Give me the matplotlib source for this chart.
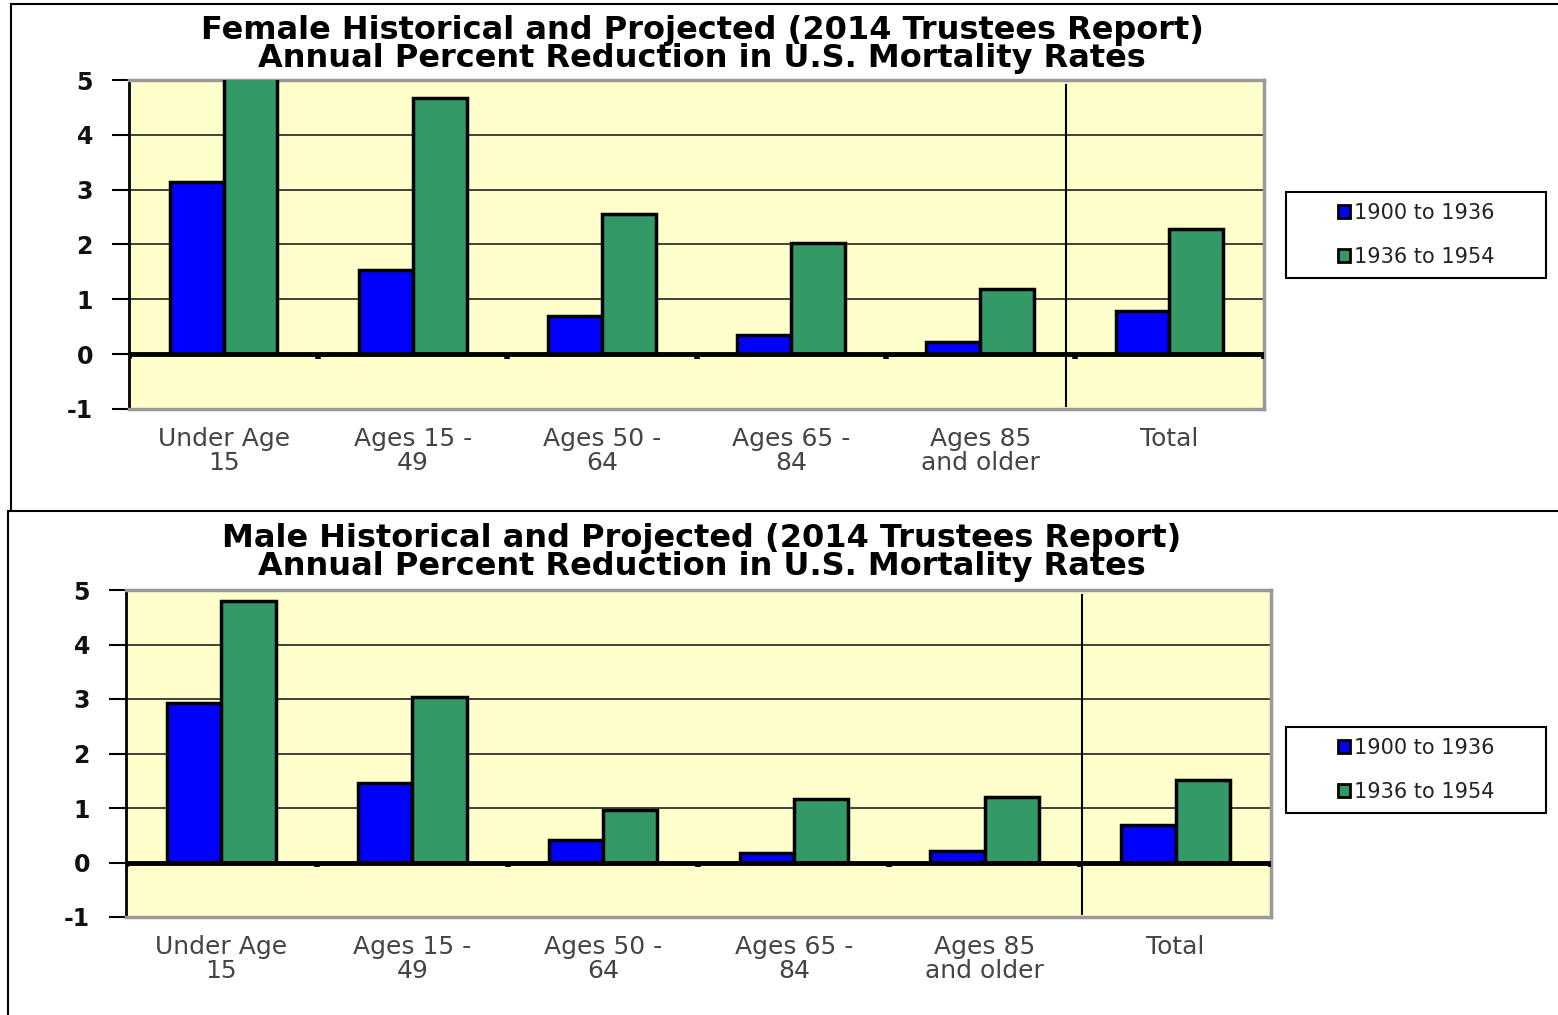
import matplotlib
matplotlib.use("Agg")
import matplotlib.pyplot as plt
from matplotlib.lines import Line2D
from matplotlib.patches import Patch
import numpy as np

categories = ["Under Age\n15", "Ages 15 -\n49", "Ages 50 -\n64", "Ages 65 -\n84", "Ages 85\nand older", "Total"]
series_names = ["1900 to 1936", "1936 to 1954"]
female_1900_1936 = [3.14, 1.53, 0.69, 0.35, 0.22, 0.78]
female_1936_1954 = [5.1, 4.67, 2.55, 2.03, 1.19, 2.28]
male_1900_1936 = [2.92, 1.45, 0.42, 0.18, 0.22, 0.68]
male_1936_1954 = [4.80, 3.03, 0.97, 1.16, 1.21, 1.51]
yticks = [-1, 0, 1, 2, 3, 4, 5]
female_title = ["Female Historical and Projected (2014 Trustees Report)",
                "Annual Percent Reduction in U.S. Mortality Rates"]
male_title = ["Male Historical and Projected (2014 Trustees Report)",
              "Annual Percent Reduction in U.S. Mortality Rates"]

W, H = 1558, 1015
fig = plt.figure(figsize=(W / 100, H / 100), dpi=100)
fig.patch.set_facecolor("white")

BLUE = "#0000FF"
GREEN = "#339966"
BG = "#FFFFCC"


def px_axes(x0, y0, x1, y1):
    return fig.add_axes([x0 / W, 1 - y1 / H, (x1 - x0) / W, (y1 - y0) / H])


def panel(ax, blue, green, title_lines, vline_x, title_ys, legend_box):
    n = len(categories)
    x = np.arange(n)
    bw = 0.285
    ax.set_facecolor(BG)
    ax.set_xlim(-0.5, n - 0.5)
    ax.set_ylim(-1, 5)
    for y in range(1, 5):
        ax.axhline(y, color="#333333", lw=1.3, zorder=1)
    ax.bar(x - bw / 2, blue, bw, color=BLUE, edgecolor="black", lw=2.5, zorder=3, label=series_names[0])
    ax.bar(x + bw / 2, green, bw, color=GREEN, edgecolor="black", lw=2.5, zorder=3, label=series_names[1])
    ax.axhline(0, color="black", lw=3.5, zorder=4)
    ax.vlines(np.arange(n + 1) - 0.5, -0.08, 0, color="black", lw=4, zorder=4)
    ax.axvline(vline_x, ymin=0.01, ymax=0.985, color="black", lw=1.5, zorder=2)
    for s in ["top", "right", "bottom"]:
        ax.spines[s].set_color("#999999")
        ax.spines[s].set_linewidth(2.5)
    ax.spines["left"].set_color("black")
    ax.spines["left"].set_linewidth(2)
    ax.set_yticks(yticks)
    ax.set_yticklabels([str(t) for t in yticks], fontsize=17, fontweight="bold", color="#111111")
    ax.tick_params(axis="y", length=12, width=1.5, color="black", pad=14)
    ax.set_xticks(x)
    ax.set_xticklabels(categories, fontsize=18, color="#444444", linespacing=1.02)
    ax.tick_params(axis="x", length=0, pad=13)
    ax.set_axisbelow(True)
    for line, ty in zip(title_lines, title_ys):
        fig.text(702 / W, 1 - ty / H, line, ha="center", va="center", fontsize=23,
                 fontweight="bold")
    handles = [Patch(facecolor=BLUE, edgecolor="black", lw=2),
               Patch(facecolor=GREEN, edgecolor="black", lw=2)]
    lx0, ly0, lx1, ly1 = legend_box
    fig.legend(handles, series_names, loc="center",
               bbox_to_anchor=((lx0 + lx1) / 2 / W, 1 - (ly0 + ly1) / 2 / H),
               fontsize=15, handlelength=0.6, handleheight=0.6, handletextpad=0.15,
               labelspacing=1.15, borderpad=0.5, fancybox=False, frameon=False,
               labelcolor="#222222")
    rect = plt.Rectangle((lx0 / W, 1 - ly1 / H), (lx1 - lx0) / W, (ly1 - ly0) / H,
                         transform=fig.transFigure, fill=False, edgecolor="black", lw=1.5)
    fig.add_artist(rect)


ax1 = px_axes(129, 80, 1264, 409)
panel(ax1, female_1900_1936, female_1936_1954, female_title, 4.455, (31, 59), (1286, 192, 1546, 278))
ax2 = px_axes(126, 590, 1271, 917)
panel(ax2, male_1900_1936, male_1936_1954, male_title, 4.51, (538, 567), (1286, 727, 1546, 813))

# panel frames
for (x0, y0, y1) in [(11, 4, 511), (8, 511, 1015)]:
    fig.add_artist(Line2D([x0 / W, 1], [1 - y0 / H, 1 - y0 / H], transform=fig.transFigure, color="black", lw=1.5))
    fig.add_artist(Line2D([x0 / W, x0 / W], [1 - y0 / H, 1 - y1 / H], transform=fig.transFigure, color="black", lw=1.5))

fig.savefig("out.png", dpi=100)
